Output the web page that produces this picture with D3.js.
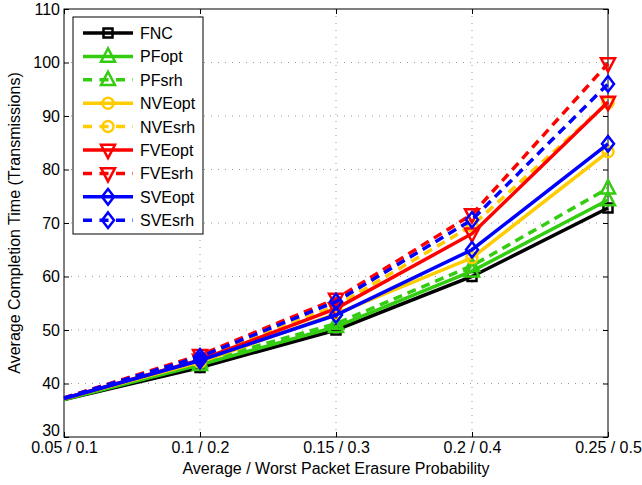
<!DOCTYPE html>
<html>
<head>
<meta charset="utf-8">
<script src="https://cdn.jsdelivr.net/npm/d3@7"></script>
<style>
  body { margin: 0; background: #fff; }
  text { font-family: "Liberation Sans", Arial, sans-serif; }
</style>
</head>
<body>
<svg id="mainsvg" width="642" height="485"></svg>
<script>
// x categories (average / worst erasure probability)
const xTicks = ['0.05 / 0.1', '0.1 / 0.2', '0.15 / 0.3', '0.2 / 0.4', '0.25 / 0.5']
const yTicks = [30, 40, 50, 60, 70, 80, 90, 100, 110]

// completion time values
const FNC    = [37.0, 43.0, 50.0, 60.0, 72.8]
const PFopt  = [37.0, 43.5, 50.6, 61.0, 74.3]
const PFsrh  = [37.1, 44.0, 51.2, 62.0, 76.5]
const NVEopt = [37.2, 44.0, 53.0, 63.5, 83.3]
const NVEsrh = [37.2, 44.6, 54.5, 69.5, 92.5]
const FVEopt = [37.2, 44.4, 54.0, 68.0, 92.6]
const FVEsrh = [37.3, 45.3, 55.8, 71.6, 99.8]
const SVEopt = [37.2, 44.3, 52.8, 65.0, 84.8]
const SVEsrh = [37.3, 45.0, 55.3, 70.6, 96.0]

const seriesNames = ['FNC', 'PFopt', 'PFsrh', 'NVEopt', 'NVEsrh', 'FVEopt', 'FVEsrh', 'SVEopt', 'SVEsrh']
const seriesValues = [FNC, PFopt, PFsrh, NVEopt, NVEsrh, FVEopt, FVEsrh, SVEopt, SVEsrh]
const seriesColors = ['#000000', '#33cc11', '#33cc11', '#ffcc00', '#ffcc00', '#ff0000', '#ff0000', '#0000ff', '#0000ff']
const seriesDashed = [false, false, true, false, true, false, true, false, true]
const seriesMarker = ['square', 'triangle', 'triangle', 'circle', 'circle', 'triangleDown', 'triangleDown', 'diamond', 'diamond']

const margin = {left: 64, right: 34, top: 9, bottom: 48}
const width = 642, height = 485
const plotW = width - margin.left - margin.right
const plotH = height - margin.top - margin.bottom

const svg = d3.select('#mainsvg')
const g = svg.append('g').attr('transform', `translate(${margin.left},${margin.top})`)

const x = d3.scalePoint().domain(xTicks).range([0, plotW])
const y = d3.scaleLinear().domain([30, 110]).range([plotH, 0])

// dotted grid
g.append('g').selectAll('line').data(xTicks.slice(1, -1)).join('line')
  .attr('x1', d => x(d)).attr('x2', d => x(d))
  .attr('y1', 0).attr('y2', plotH)
  .attr('stroke', '#999').attr('stroke-width', 1).attr('stroke-dasharray', '1,6')
g.append('g').selectAll('line').data(yTicks.slice(1, -1)).join('line')
  .attr('x1', 0).attr('x2', plotW)
  .attr('y1', d => y(d)).attr('y2', d => y(d))
  .attr('stroke', '#999').attr('stroke-width', 1).attr('stroke-dasharray', '1,6')

// axes (ticks inward)
const xAxis = g.append('g').attr('transform', `translate(0,${plotH})`)
  .call(d3.axisBottom(x).tickSizeInner(-5).tickSizeOuter(0).tickPadding(5))
const yAxis = g.append('g')
  .call(d3.axisLeft(y).tickValues(yTicks).tickSizeInner(-5).tickSizeOuter(0).tickPadding(4))
g.append('g').call(d3.axisTop(x).tickSizeInner(-5).tickSizeOuter(0).tickFormat(''))
g.append('g').attr('transform', `translate(${plotW},0)`)
  .call(d3.axisRight(y).tickValues(yTicks).tickSizeInner(-5).tickSizeOuter(0).tickFormat(''))
g.selectAll('.domain').remove()
g.selectAll('.tick line').attr('stroke', '#000')
xAxis.selectAll('text').attr('font-size', 16).attr('fill', '#000')
  .attr('font-family', '"Liberation Sans", Arial, sans-serif')
yAxis.selectAll('text').attr('font-size', 16).attr('fill', '#000')
  .attr('font-family', '"Liberation Sans", Arial, sans-serif')
// lift the bottom y label so it sits above the first x label, as in the original
yAxis.selectAll('.tick text').filter(d => d === 30).attr('dy', '-0.1em')

g.append('rect')
  .attr('x', 0).attr('y', 0).attr('width', plotW).attr('height', plotH)
  .attr('fill', 'none').attr('stroke', '#000').attr('stroke-width', 1)

function markerPath(type, s) {
  if (type === 'square') return `M${-s},${-s}H${s}V${s}H${-s}Z`
  if (type === 'triangle') return `M0,${-s * 1.15}L${s},${s * 0.75}L${-s},${s * 0.75}Z`
  if (type === 'triangleDown') return `M0,${s * 1.15}L${s},${-s * 0.75}L${-s},${-s * 0.75}Z`
  if (type === 'diamond') return `M0,${-s * 1.3}L${s},0L0,${s * 1.3}L${-s},0Z`
  return `M${s},0A${s},${s} 0 1,1 ${-s},0A${s},${s} 0 1,1 ${s},0Z`
}
const markerSize = {square: 4.5, triangle: 7, triangleDown: 7, diamond: 6, circle: 5.5}

const line = d3.line().x((d, i) => x(xTicks[i])).y(d => y(d))

seriesValues.forEach((vals, k) => {
  const sg = g.append('g')
  sg.append('path')
    .attr('d', line(vals))
    .attr('fill', 'none')
    .attr('stroke', seriesColors[k])
    .attr('stroke-width', 3.5)
    .attr('stroke-dasharray', seriesDashed[k] ? '9,6' : null)
  // no markers on the first point
  sg.selectAll('path.m').data(vals.slice(1)).join('path')
    .attr('class', 'm')
    .attr('transform', (d, i) => `translate(${x(xTicks[i + 1])},${y(d)})`)
    .attr('d', markerPath(seriesMarker[k], markerSize[seriesMarker[k]]))
    .attr('fill', 'none')
    .attr('stroke', seriesColors[k])
    .attr('stroke-width', 2.5)
})

// legend
const lg = svg.append('g').attr('transform', 'translate(73,17)')
lg.append('rect')
  .attr('x', 0).attr('y', 0).attr('width', 130).attr('height', 217)
  .attr('fill', '#fff').attr('stroke', '#000').attr('stroke-width', 1)
seriesNames.forEach((name, k) => {
  const ly = 16 + k * 23.4
  lg.append('line')
    .attr('x1', 10).attr('x2', 60).attr('y1', ly).attr('y2', ly)
    .attr('stroke', seriesColors[k]).attr('stroke-width', 3.5)
    .attr('stroke-dasharray', seriesDashed[k] ? '9,7.5' : null)
  lg.append('path')
    .attr('transform', `translate(35,${ly})`)
    .attr('d', markerPath(seriesMarker[k], markerSize[seriesMarker[k]]))
    .attr('fill', 'none').attr('stroke', seriesColors[k]).attr('stroke-width', 2.5)
  lg.append('text')
    .attr('x', 67).attr('y', ly + 6)
    .attr('font-size', 16).attr('fill', '#000')
    .text(name)
})

// axis titles
svg.append('text')
  .attr('x', margin.left + plotW / 2).attr('y', 474)
  .attr('text-anchor', 'middle').attr('font-size', 16)
  .text('Average / Worst Packet Erasure Probability')
svg.append('text')
  .attr('transform', `translate(20,${margin.top + plotH / 2}) rotate(-90)`)
  .attr('text-anchor', 'middle').attr('font-size', 16)
  .text('Average Completion Time (Transmissions)')
</script>
</body>
</html>
